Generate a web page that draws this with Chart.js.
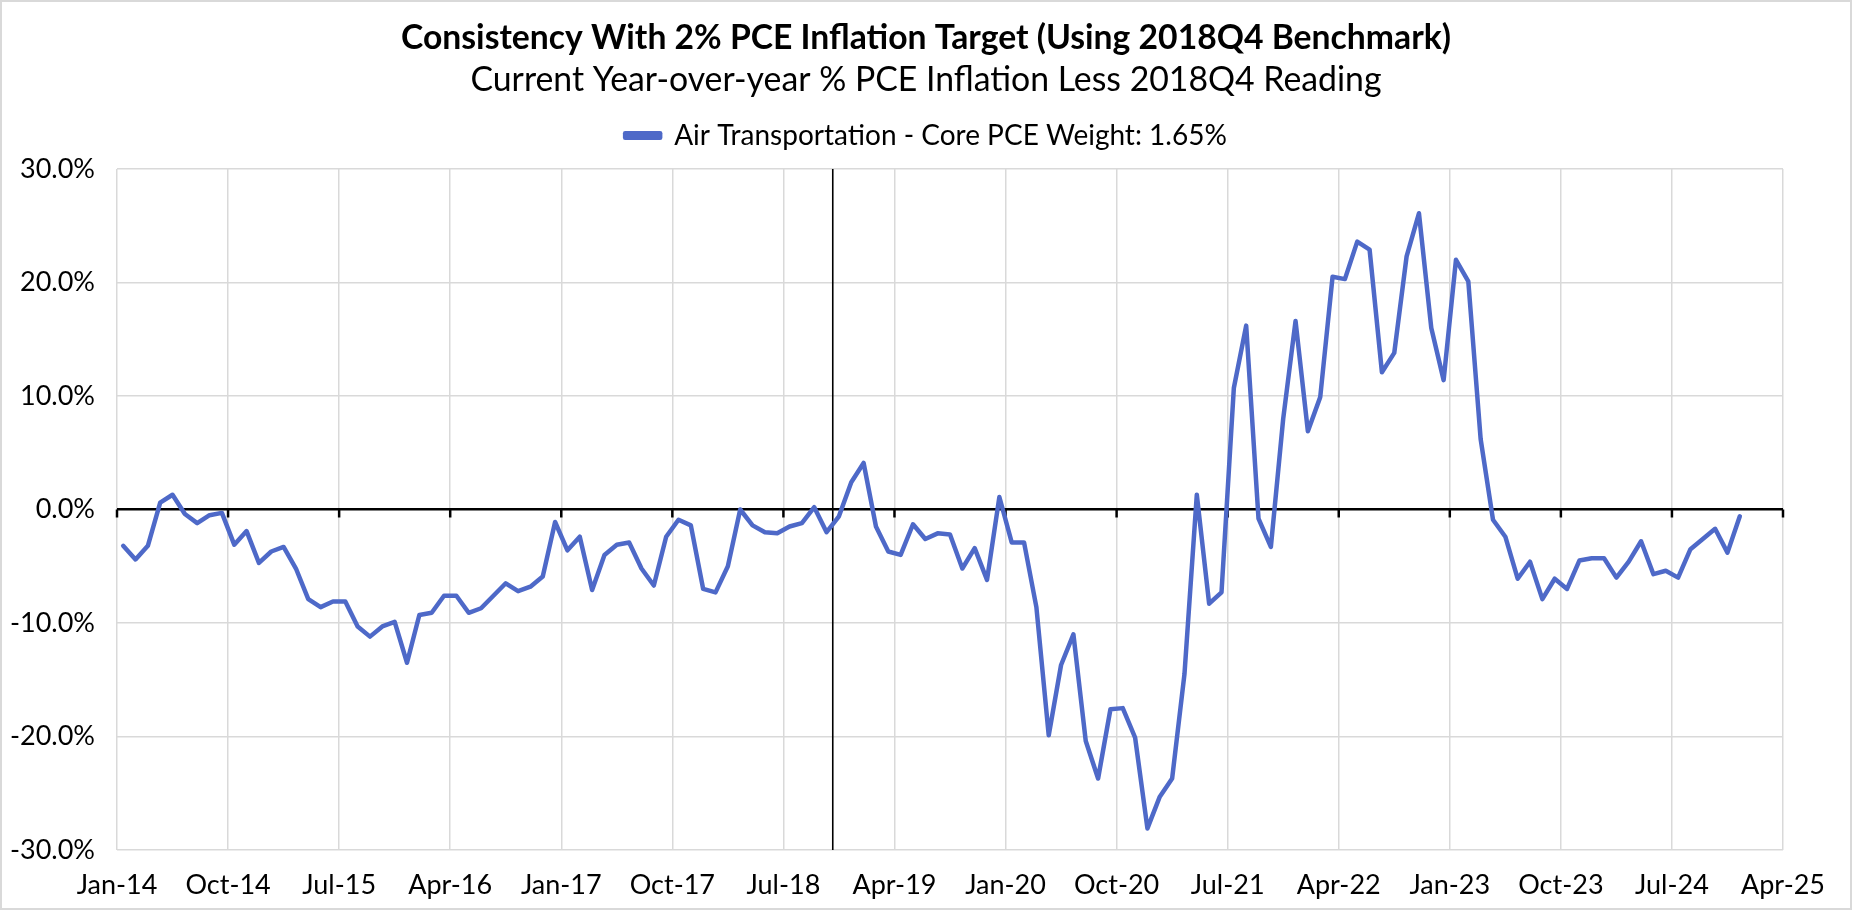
<!DOCTYPE html>
<html>
<head>
<meta charset="utf-8">
<script src="https://cdn.jsdelivr.net/npm/chart.js@4.4.1/dist/chart.umd.min.js"></script>
<style>
html, body { margin: 0; padding: 0; background: #fff; }
#wrap { position: relative; width: 1852px; height: 910px; box-sizing: border-box; border: 2px solid #d9d9d9; }
</style>
</head>
<body>
<div id="wrap"><canvas id="myChart"></canvas></div>
<script>
// x tick labels, one every 9 months starting Jan-14
const tickLabels = ['Jan-14', 'Oct-14', 'Jul-15', 'Apr-16', 'Jan-17', 'Oct-17', 'Jul-18', 'Apr-19',
    'Jan-20', 'Oct-20', 'Jul-21', 'Apr-22', 'Jan-23', 'Oct-23', 'Jul-24', 'Apr-25'];

// monthly values Jan-14 .. Dec-24 (%)
const airTransport = [
    -3.2, -4.4, -3.2, 0.6, 1.3, -0.4, -1.2, -0.5, -0.3, -3.1, -1.9, -4.7,
    -3.7, -3.3, -5.2, -7.9, -8.6, -8.1, -8.1, -10.3, -11.2, -10.3, -9.9, -13.5,
    -9.3, -9.1, -7.6, -7.6, -9.1, -8.7, -7.6, -6.5, -7.2, -6.8, -5.9, -1.1,
    -3.6, -2.4, -7.1, -4.0, -3.1, -2.9, -5.2, -6.7, -2.4, -0.9, -1.4, -7.0,
    -7.3, -5.0, 0.0, -1.4, -2.0, -2.1, -1.5, -1.2, 0.2, -2.0, -0.6, 2.4,
    4.1, -1.5, -3.7, -4.0, -1.3, -2.6, -2.1, -2.2, -5.2, -3.4, -6.2, 1.1,
    -2.9, -2.9, -8.6, -19.9, -13.7, -11.0, -20.4, -23.7, -17.6, -17.5, -20.1, -28.1,
    -25.3, -23.7, -14.5, 1.3, -8.3, -7.3, 10.7, 16.2, -0.8, -3.3, 8.0, 16.6,
    6.9, 9.9, 20.5, 20.3, 23.6, 22.9, 12.1, 13.8, 22.3, 26.1, 16.0, 11.4,
    22.0, 20.1, 6.2, -0.9, -2.4, -6.1, -4.6, -7.9, -6.1, -7.0, -4.5, -4.3,
    -4.3, -6.0, -4.6, -2.8, -5.7, -5.4, -6.0, -3.5, -2.6, -1.7, -3.8, -0.6
];

// benchmark line (months since Jan-14) -> Nov-18
const benchmarkMonth = 58;

const lineColor = '#4E69C8';

// points sit in the middle of each month
const points = airTransport.map((v, i) => ({ x: i + 0.5, y: v }));

// empty boxes: gap under the legend, gap right of the plot
function emptyBox(position, weight, size) {
    return {
        position: position,
        weight: weight,
        fullSize: false,
        options: {},
        left: 0, top: 0, right: 0, bottom: 0, width: 0, height: 0,
        isHorizontal() { return position === 'top' || position === 'bottom'; },
        update(maxWidth, maxHeight) {
            if (this.isHorizontal()) { this.width = maxWidth; this.height = size; }
            else { this.width = size; this.height = maxHeight; }
        },
        draw() {}
    };
}
const spacer = {
    id: 'spacer',
    beforeInit(chart) {
        Chart.layouts.addBox(chart, emptyBox('top', 500, 9.5));
        Chart.layouts.addBox(chart, emptyBox('right', 500, 67));
    }
};

// zero-axis tick marks + vertical benchmark line
const extras = {
    id: 'extras',
    beforeDatasetsDraw(chart) {
        const c = chart.ctx;
        const xs = chart.scales.x;
        const ys = chart.scales.y;
        const y0 = ys.getPixelForValue(0);
        c.save();
        c.strokeStyle = '#000';
        c.lineWidth = 2.5;
        for (let v = 0; v <= 135; v += 9) {
            const px = xs.getPixelForValue(v);
            c.beginPath();
            c.moveTo(px, y0);
            c.lineTo(px, y0 + 8);
            c.stroke();
        }
        const bx = xs.getPixelForValue(benchmarkMonth);
        c.lineWidth = 1.6;
        c.beginPath();
        c.moveTo(bx, ys.top);
        c.lineTo(bx, ys.bottom);
        c.stroke();
        c.restore();
    }
};

const ctx = document.getElementById('myChart').getContext('2d');
const myChart = new Chart(ctx, {
    type: 'line',
    data: {
        datasets: [{
            label: 'Air Transportation - Core PCE Weight: 1.65%',
            data: points,
            borderColor: lineColor,
            backgroundColor: lineColor,
            borderWidth: 4.5,
            borderJoinStyle: 'round',
            borderCapStyle: 'round',
            pointRadius: 0,
            tension: 0
        }]
    },
    options: {
        responsive: true,
        maintainAspectRatio: false,
        animation: false,
        layout: { padding: { left: 0, right: 0, top: 0, bottom: 6 } },
        plugins: {
            title: {
                display: true,
                text: 'Consistency With 2% PCE Inflation Target (Using 2018Q4 Benchmark)',
                color: '#000',
                font: { family: 'Lato', size: 33.7, weight: 'bold' },
                padding: { top: 16, bottom: 1 }
            },
            subtitle: {
                display: true,
                text: 'Current Year-over-year % PCE Inflation Less 2018Q4 Reading',
                color: '#000',
                font: { family: 'Lato', size: 33.8 },
                padding: { top: 0, bottom: 11.5 }
            },
            legend: {
                display: true,
                labels: {
                    color: '#000',
                    font: { family: 'Lato', size: 28 },
                    boxWidth: 35,
                    boxHeight: 4.5,
                    padding: 10
                }
            },
            tooltip: { enabled: false }
        },
        scales: {
            x: {
                type: 'linear',
                min: 0,
                max: 135,
                afterFit(scale) { scale.height = 52; },
                border: { display: false },
                grid: { color: '#d9d9d9', lineWidth: 1.5, drawTicks: false },
                ticks: {
                    stepSize: 9,
                    autoSkip: false,
                    maxRotation: 0,
                    padding: 19,
                    color: '#000',
                    font: { family: 'Lato', size: 27 },
                    callback: (v) => tickLabels[v / 9]
                }
            },
            y: {
                min: -30,
                max: 30,
                afterFit(scale) { scale.width = 115; },
                border: { display: false },
                grid: {
                    drawTicks: false,
                    color: (c) => c.tick && c.tick.value === 0 ? '#000' : '#d9d9d9',
                    lineWidth: (c) => c.tick && c.tick.value === 0 ? 2.5 : 1.5
                },
                ticks: {
                    stepSize: 10,
                    padding: 22,
                    color: '#000',
                    font: { family: 'Lato', size: 27 },
                    callback: (v) => v.toFixed(1) + '%'
                }
            }
        }
    },
    plugins: [spacer, extras]
});
</script>
</body>
</html>
